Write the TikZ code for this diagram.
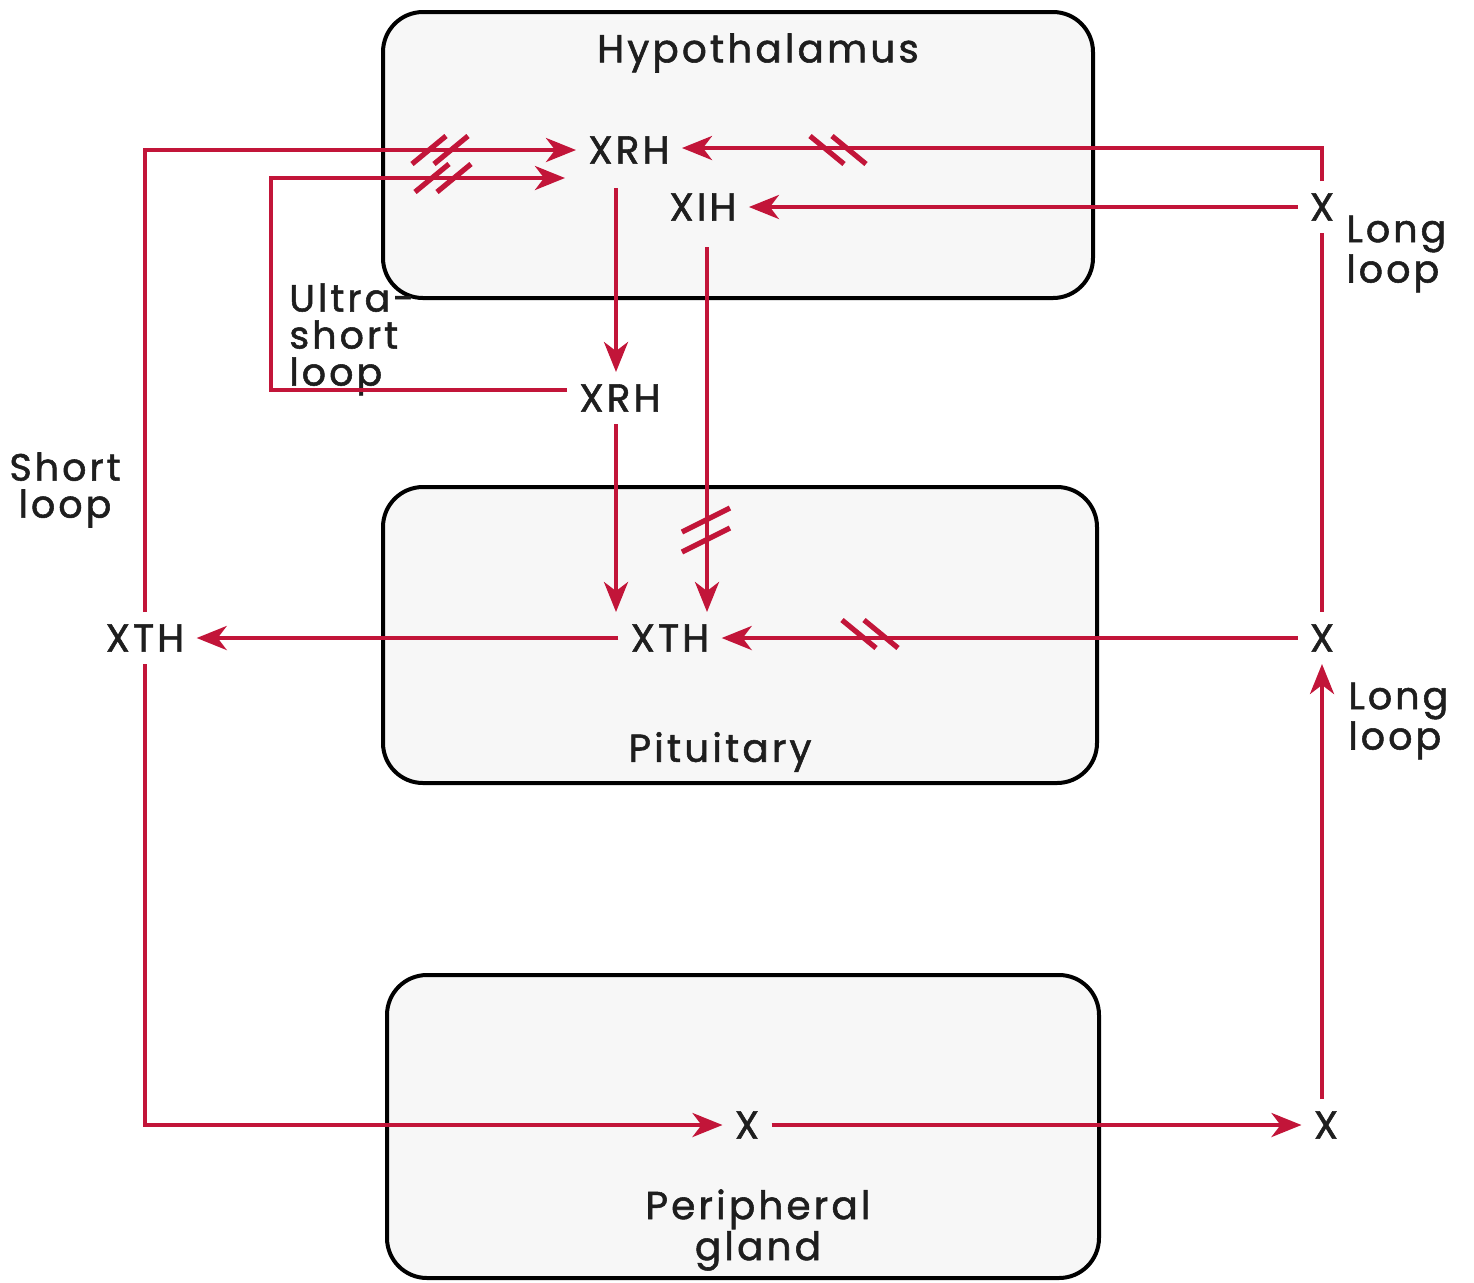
\documentclass[tikz,border=0pt]{standalone}
\usepackage{fontspec}
\setmainfont{Poppins}[LetterSpace=8,FakeBold=1.4]
\usepackage{tikz}
\usetikzlibrary{arrows.meta}

\definecolor{loopred}{HTML}{C21539}
\definecolor{organfill}{HTML}{F7F7F7}
\definecolor{ink}{HTML}{1E1E1E}

\tikzset{
  organ/.style={draw=black,line width=2pt,fill=organfill,rounded corners=20pt},
  lbl/.style={text=ink,font=\fontsize{19.5}{19}\selectfont,inner sep=6pt},
  note/.style={text=ink,font=\fontsize{19}{18.5}\selectfont,inner sep=0pt,align=left},
  fb/.style={draw=loopred,line width=2pt,-{Stealth[length=15pt,width=12pt,inset=4.5pt]}},
  wire/.style={draw=loopred,line width=2pt},
  hash/.style={draw=loopred,line width=2.6pt},
  hcut/.pic={\draw[hash] (-14pt,-7pt) -- (3pt,7pt);
             \draw[hash] (-3pt,-7pt) -- (14pt,7pt);},
  vcut/.pic={\draw[hash] (-12pt,-11pt) -- (12pt,1pt);
             \draw[hash] (-12pt,-1pt) -- (12pt,11pt);}
}

\begin{document}
\begin{tikzpicture}[x=0.5pt,y=-0.5pt]
  \useasboundingbox (0,0) rectangle (1474,1282);

  % the three organs
  \draw[organ] (383,12) rectangle (1093,298);
  \draw[organ] (383,487) rectangle (1097,783);
  \draw[organ] (387,975) rectangle (1099,1278);

  % labels
  \node[lbl] (hypo) at (758,53) {Hypothalamus};
  \node[lbl] (pit) at (720,752) {Pituitary};
  \node[lbl,align=center] (periph) at (758,1230) {Peripheral\\gland};

  \node[lbl] (xrh) at (629,150) {XRH};
  \node[lbl] (xih) at (703,207) {XIH};
  \node[lbl] (xrhm) at (620,398) {XRH};
  \node[lbl] (xth) at (670,638) {XTH};
  \node[lbl] (xthl) at (145,638) {XTH};
  \node[lbl] (xt) at (1322,207) {X};
  \node[lbl] (xm) at (1322,638) {X};
  \node[lbl] (xb) at (1326,1125) {X};
  \node[lbl] (xp) at (747,1125) {X};

  \node[note,anchor=north west] (ultra) at (289,283) {Ultra-\\short\\loop};
  \node[note,align=center] (short) at (65,490) {Short\\loop};
  \node[note,anchor=west] (longa) at (1346,254) {Long\\loop};
  \node[note,anchor=west] (longb) at (1348,721) {Long\\loop};

  \coordinate (ucorner) at (271,178);
  \coordinate (uend) at (565,178);

  % short loop
  \draw[fb] (xthl.north) |- (xrh.west);
  \draw[fb] (xthl.south) |- (xp.west);

  % ultra-short loop
  \draw[fb] ([yshift=4pt]xrhm.west) -| (ucorner) -- (uend);

  % long loop
  \draw[fb] (xt.north) |- ([yshift=1pt]xrh.east);
  \draw[fb] (xt.west) -- (xih.east);
  \draw[wire] (xt.south) -- (xm.north);
  \draw[fb] (xm.west) -- (xth.east);
  \draw[fb] (xp.east) -- (xb.west);
  \draw[fb] (xb.north -| xm) -- (xm.south);

  % axis down
  \draw[fb,shorten <=6pt] ([xshift=-2pt]xrhm.north |- xrh.south) -- ([xshift=-2pt]xrhm.north);
  \draw[fb] ([xshift=-2pt]xrhm.south) -- ([xshift=-2pt]xrhm.south |- xth.north);
  \draw[fb,shorten <=7pt] ([xshift=2pt]xih.south) -- ([xshift=2pt]xih.south |- xth.north);
  \draw[fb] (xth.west) -- (xthl.east);

  % blocked pathways
  \pic at (440,150) {hcut};
  \pic at (443,178) {hcut};
  \pic[xscale=-1] at (838,150) {hcut};
  \pic[xscale=-1] at (870,634) {hcut};
  \pic at (706,530) {vcut};
\end{tikzpicture}
\end{document}
